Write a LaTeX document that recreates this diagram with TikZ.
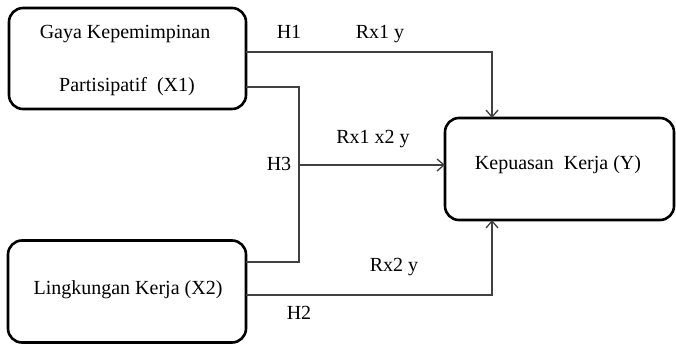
\documentclass[tikz,border=0pt]{standalone}
\usepackage{fontspec}
\setmainfont{Liberation Serif}
\usetikzlibrary{arrows.meta}
\begin{document}
\begin{tikzpicture}[x=1pt,y=-1pt,
  box/.style={draw=black,line width=2.6pt,rounded corners=14pt,inner sep=0pt},
  conn/.style={draw=black!75,line width=1.3pt},
  arr/.style={conn,-{Straight Barb[length=7pt,width=12pt,line width=1.3pt]}},
  lbl/.style={font=\fontsize{20}{23}\selectfont,inner sep=0pt,anchor=base}]
\useasboundingbox (0,0) rectangle (676,345);
\node[box,minimum width=237pt,minimum height=101pt] (x1) at (127.5,58.5) {};
\node[box,minimum width=238pt,minimum height=102pt] (x2) at (127,291.5) {};
\node[box,minimum width=229pt,minimum height=102pt] (yb) at (559.5,169) {};
% box texts
\node[lbl] (t1a) at (125,38) {Gaya Kepemimpinan};
\node[lbl] (t1b) at (127,91) {Partisipatif\ \ (X1)};
\node[lbl] (t2) at (128,294) {Lingkungan Kerja (X2)};
\node[lbl] (ty) at (558,169) {Kepuasan\ \ Kerja\ (Y)};
% coordinates
\coordinate (a1) at (246,52);
\coordinate (a2) at (492,118);
\coordinate (b1) at (246,87);
\coordinate (b2) at (299,87);
\coordinate (b3) at (299,262);
\coordinate (b4) at (246,262);
\coordinate (c1) at (299,165);
\coordinate (c2) at (445,165);
\coordinate (d1) at (246,295);
\coordinate (d2) at (492,220);
% connectors
\draw[arr] (a1) -| (a2);
\draw[conn] (b1) -- (b2) -- (b3) -- (b4);
\draw[arr] (c1) -- (c2);
\draw[arr] (d1) -| (d2);
% labels
\node[lbl] (h1) at (289,38) {H1};
\node[lbl] (r1) at (380,38) {Rx1 y};
\node[lbl] (r12) at (373,143) {Rx1 x2 y};
\node[lbl] (h3) at (279,170) {H3};
\node[lbl] (r2) at (394,271) {Rx2 y};
\node[lbl] (h2) at (299,319) {H2};
\end{tikzpicture}
\end{document}
